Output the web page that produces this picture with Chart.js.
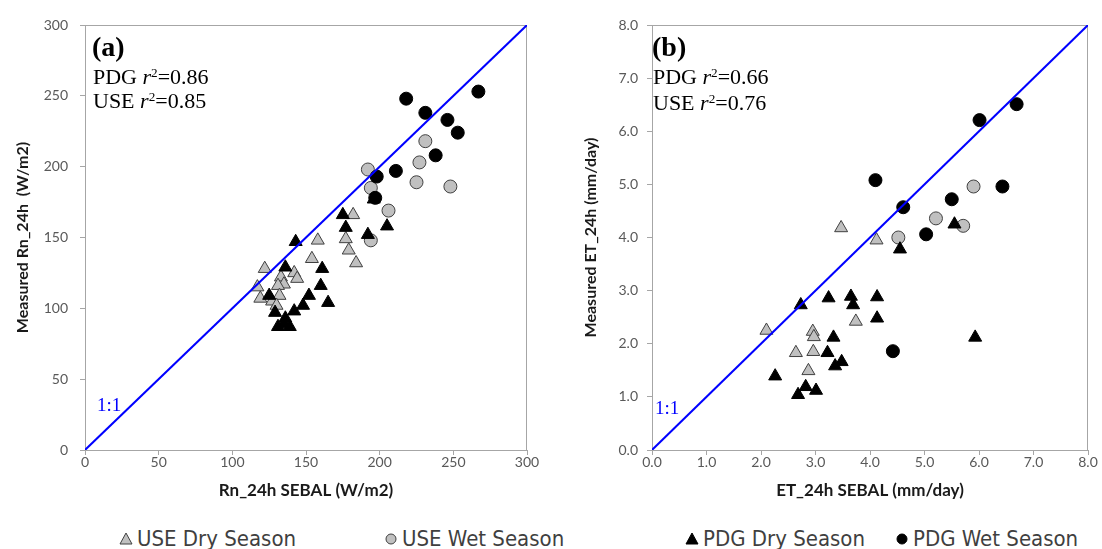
<!DOCTYPE html>
<html>
<head>
<meta charset="utf-8">
<script src="https://cdn.jsdelivr.net/npm/chart.js@4.4.0/dist/chart.umd.min.js"></script>
<style>
  body { margin: 0; background: #fff; }
  #wrap { position: relative; width: 1102px; height: 549px; overflow: hidden; }
  canvas { position: absolute; top: 0; }
  .note { position: absolute; font-family: "Liberation Serif", "Times New Roman", serif; color: #000; font-size: 22px; line-height: 24px; white-space: nowrap; }
  .tag { font-weight: bold; font-size: 28px; line-height: 30px; }
  .note sup { font-size: 0.6em; position: relative; top: -0.3em; vertical-align: top; }
  .one { color: #0000ff; font-size: 19px; line-height: 20px; }
  .item { position: absolute; top: 524px; height: 28px; display: flex; align-items: center; font-family: "Liberation Sans Narrow", "DejaVu Sans Condensed", sans-serif; font-size: 22px; color: #3f3f3f; white-space: nowrap; }
  .item svg { margin-right: 4px; }
</style>
</head>
<body>
<div id="wrap">
  <canvas id="rn" width="551" height="510" style="left:0"></canvas>
  <canvas id="et" width="551" height="510" style="left:551px"></canvas>

  <div class="note tag" style="left:92px;top:32px">(a)</div>
  <div class="note" style="left:93px;top:65px">PDG <i>r</i><sup>2</sup>=0.86</div>
  <div class="note" style="left:93px;top:89px">USE <i>r</i><sup>2</sup>=0.85</div>
  <div class="note one" style="left:97px;top:395px">1:1</div>

  <div class="note tag" style="left:652px;top:32px">(b)</div>
  <div class="note" style="left:653px;top:65px">PDG <i>r</i><sup>2</sup>=0.66</div>
  <div class="note" style="left:653px;top:91px">USE <i>r</i><sup>2</sup>=0.76</div>
  <div class="note one" style="left:655px;top:398px">1:1</div>

  <div class="item" style="left:119px"><svg width="14" height="13"><polygon points="7,1 13,12 1,12" fill="#c0c0c0" stroke="#404040"/></svg>USE Dry Season</div>
  <div class="item" style="left:384px"><svg width="14" height="13"><circle cx="7" cy="7" r="5" fill="#c0c0c0" stroke="#404040"/></svg>USE Wet Season</div>
  <div class="item" style="left:685px"><svg width="14" height="13"><polygon points="7,1 13,12 1,12" fill="#000" stroke="#000"/></svg>PDG Dry Season</div>
  <div class="item" style="left:895px"><svg width="14" height="13"><circle cx="7" cy="7" r="5" fill="#000" stroke="#000"/></svg>PDG Wet Season</div>
</div>
<script>
// (a) net radiation, SEBAL vs measured (W/m2)
const useDryRnX = [182, 177, 179, 184, 158, 154, 122, 117, 119, 133, 142, 144, 135, 131, 132, 127, 130];
const useDryRnY = [166, 149, 141, 132, 148, 135, 128, 115, 107, 122, 125, 121, 117, 116, 109, 105, 102];
const useWetRnX = [192, 231, 227, 225, 248, 194, 206, 194];
const useWetRnY = [198, 218, 203, 189, 186, 185, 169, 148];
const pdgDryRnX = [143, 175, 177, 192, 205, 196, 136, 161, 160, 152, 165, 148, 142, 125, 129, 136, 131, 139, 135];
const pdgDryRnY = [147, 166, 157, 152, 158, 177, 129, 128, 116, 109, 104, 102, 98, 109, 97, 93, 87, 87, 89];
const pdgWetRnX = [218, 267, 231, 246, 253, 238, 211, 198, 197];
const pdgWetRnY = [248, 253, 238, 233, 224, 208, 197, 193, 178];
const rnOneToOne = [0, 300];

// (b) daily ET, SEBAL vs measured (mm/day)
const useDryEtX = [3.47, 4.12, 3.74, 2.10, 2.95, 2.97, 2.64, 2.96, 2.87];
const useDryEtY = [4.18, 3.95, 2.42, 2.25, 2.23, 2.13, 1.83, 1.85, 1.49];
const useWetEtX = [5.90, 5.21, 5.71, 4.52];
const useWetEtY = [4.96, 4.36, 4.22, 4.00];
const pdgDryEtX = [2.73, 3.24, 3.65, 3.69, 4.13, 4.13, 3.33, 3.22, 3.48, 3.36, 2.26, 2.82, 2.68, 3.01, 5.93, 5.55, 4.55];
const pdgDryEtY = [2.73, 2.86, 2.89, 2.73, 2.88, 2.48, 2.12, 1.83, 1.66, 1.58, 1.39, 1.19, 1.04, 1.12, 2.12, 4.25, 3.78];
const pdgWetEtX = [6.69, 6.01, 4.10, 4.61, 5.50, 6.43, 5.03, 4.42];
const pdgWetEtY = [6.51, 6.21, 5.08, 4.57, 4.72, 4.96, 4.06, 1.86];
const etOneToOne = [0, 8];

const gray = "#a6a6a6";

function pts(xs, ys) {
  return xs.map((x, i) => ({ x: x, y: ys[i] }));
}

function series(label, xs, ys, shape, fill, edge, order) {
  return {
    label: label,
    data: pts(xs, ys),
    pointStyle: shape,
    pointRadius: shape === "triangle" ? 7.5 : 6.5,
    backgroundColor: fill,
    borderColor: edge,
    pointBorderWidth: 1,
    order: order,
  };
}

function oneLine(ends) {
  return {
    label: "1:1",
    data: pts(ends, ends),
    showLine: true,
    borderColor: "#0000ff",
    borderWidth: 2,
    pointRadius: 0,
    order: 0,
  };
}

// grey box round the plot area
const frame = {
  id: "frame",
  beforeDatasetsDraw(chart) {
    const { ctx, chartArea: a } = chart;
    ctx.save();
    ctx.strokeStyle = gray;
    ctx.lineWidth = 1;
    ctx.strokeRect(a.left + 0.5, a.top + 0.5, a.width - 1, a.height);
    ctx.restore();
  },
};

function axis(range, step, digits, title, titleSize, titlePad, tickPad, size, isY) {
  return {
    type: "linear",
    min: range[0],
    max: range[1],
    ticks: {
      stepSize: step,
      color: "#595959",
      padding: tickPad,
      font: { family: "Lato", size: 14 },
      callback: (v) => v.toFixed(digits),
    },
    grid: { drawOnChartArea: false, drawTicks: true, tickLength: 5, color: gray },
    border: { display: false },
    title: {
      display: true,
      text: title,
      color: "#1a1a1a",
      font: { family: "Lato", size: titleSize, weight: "bold" },
      padding: isY ? { top: titlePad, bottom: 0 } : { top: 0, bottom: titlePad },
    },
    afterFit(s) {
      if (isY) s.width = size;
      else s.height = size;
    },
  };
}

function chart(id, sets, range, step, digits, xTitle, yTitle, yTitlePad, yTickPad, yWidth, rightPad) {
  new Chart(document.getElementById(id), {
    type: "scatter",
    data: { datasets: sets },
    options: {
      responsive: false,
      animation: false,
      layout: { padding: { left: 0, top: 25, right: rightPad, bottom: 0 } },
      plugins: { legend: { display: false }, tooltip: { enabled: false } },
      scales: {
        x: axis(range, step, digits, xTitle, 17, 9, -1, 60, false),
        y: axis(range, step, digits, yTitle, 16, yTitlePad, yTickPad, yWidth, true),
      },
    },
    plugins: [frame],
  });
}

chart(
  "rn",
  [
    oneLine(rnOneToOne),
    series("USE Dry Season", useDryRnX, useDryRnY, "triangle", "#c0c0c0", "#404040", 4),
    series("USE Wet Season", useWetRnX, useWetRnY, "circle", "#c0c0c0", "#404040", 3),
    series("PDG Dry Season", pdgDryRnX, pdgDryRnY, "triangle", "#000", "#000", 2),
    series("PDG Wet Season", pdgWetRnX, pdgWetRnY, "circle", "#000", "#000", 1),
  ],
  [0, 300], 50, 0,
  "Rn_24h SEBAL (W/m2)", "Measured Rn_24h  (W/m2)", 13, 12, 85, 24
);

chart(
  "et",
  [
    oneLine(etOneToOne),
    series("USE Dry Season", useDryEtX, useDryEtY, "triangle", "#c0c0c0", "#404040", 4),
    series("USE Wet Season", useWetEtX, useWetEtY, "circle", "#c0c0c0", "#404040", 3),
    series("PDG Dry Season", pdgDryEtX, pdgDryEtY, "triangle", "#000", "#000", 2),
    series("PDG Wet Season", pdgWetEtX, pdgWetEtY, "circle", "#000", "#000", 1),
  ],
  [0, 8], 1, 1,
  "ET_24h SEBAL (mm/day)", "Measured ET_24h (mm/day)", 30, 9, 101, 14
);
</script>
</body>
</html>
